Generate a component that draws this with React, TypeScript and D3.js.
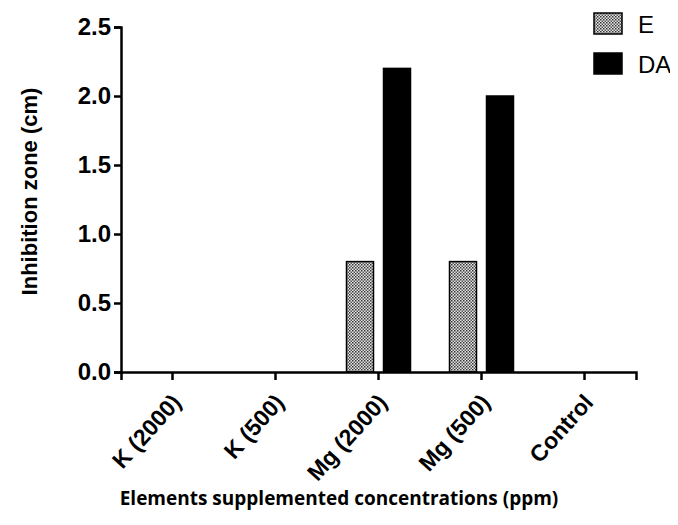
import * as d3 from "d3";
import { useEffect, useRef } from "react";

const categories = ["K (2000)", "K (500)", "Mg (2000)", "Mg (500)", "Control"];
const seriesNames = ["E", "DA"];
const valuesE = [0, 0, 0.8, 0.8, 0];
const valuesDA = [0, 0, 2.2, 2.0, 0];
const yTicks = [0, 0.5, 1.0, 1.5, 2.0, 2.5];

const App = () => {
  const ref = useRef<SVGSVGElement | null>(null);

  useEffect(() => {
    const svg = d3.select(ref.current);
    svg.selectAll("*").remove();

    const width = 678,
      height = 525;
    const margin = { top: 27, right: 42, bottom: 153, left: 121 };
    const chartWidth = width - margin.left - margin.right;
    const chartHeight = height - margin.top - margin.bottom;
    const font = "Liberation Sans, Arial, sans-serif";

    const defs = svg.append("defs");
    const pat = defs
      .append("pattern")
      .attr("id", "checker")
      .attr("width", 3)
      .attr("height", 3)
      .attr("patternUnits", "userSpaceOnUse");
    pat.append("rect").attr("width", 3).attr("height", 3).attr("fill", "#e6e6e6");
    pat.append("rect").attr("width", 1.5).attr("height", 1.5).attr("fill", "#333");
    pat.append("rect").attr("x", 1.5).attr("y", 1.5).attr("width", 1.5).attr("height", 1.5).attr("fill", "#555");

    const x = d3.scaleBand().domain(categories).range([0, chartWidth]).padding(0);
    const y = d3.scaleLinear().domain([0, 2.5]).range([chartHeight, 0]);

    const g = svg.append("g").attr("transform", `translate(${margin.left},${margin.top})`);

    const barW = 27;
    const gap = 10;
    const fills = ["url(#checker)", "#000"];
    const series = [valuesE, valuesDA];

    series.forEach((vals, si) => {
      g.selectAll(`.bar${si}`)
        .data(vals.map((v, i) => ({ v, c: categories[i] })))
        .enter()
        .filter((d) => d.v > 0)
        .append("rect")
        .attr("x", (d) => {
          const c = (x(d.c) ?? 0) + x.bandwidth() / 2;
          return si === 0 ? c - gap / 2 - barW : c + gap / 2;
        })
        .attr("y", (d) => y(d.v))
        .attr("width", barW)
        .attr("height", (d) => chartHeight - y(d.v))
        .attr("fill", fills[si])
        .attr("stroke", "#000")
        .attr("stroke-width", 1.5);
    });

    const yAxis = g
      .append("g")
      .call(d3.axisLeft(y).tickValues(yTicks).tickFormat(d3.format(".1f")).tickSizeOuter(0).tickSize(7));
    yAxis.select(".domain").attr("stroke-width", 2.5);
    yAxis.selectAll(".tick line").attr("stroke-width", 2.5);
    yAxis
      .selectAll(".tick text")
      .attr("font-family", font)
      .attr("font-weight", "bold")
      .attr("font-size", 24)
      .attr("fill", "#000")
      .attr("x", -10);

    const xAxis = g
      .append("g")
      .attr("transform", `translate(0,${chartHeight})`)
      .call(d3.axisBottom(x).tickSizeOuter(0).tickSize(8));
    xAxis.select(".domain").attr("stroke-width", 2.5);
    xAxis.selectAll(".tick line").attr("stroke-width", 2.5);
    xAxis
      .selectAll(".tick text")
      .attr("font-family", font)
      .attr("font-weight", "bold")
      .attr("font-size", 23)
      .attr("fill", "#000")
      .attr("text-anchor", "end")
      .attr("dy", "0.35em")
      .attr("transform", "translate(4,26) rotate(-48)")
      .attr("y", 0)
      .attr("x", 0);

    svg
      .append("text")
      .attr("transform", `translate(37,${margin.top + chartHeight / 2 - 8}) rotate(-90)`)
      .attr("text-anchor", "middle")
      .attr("font-family", font)
      .attr("font-weight", "bold")
      .attr("font-size", 22)
      .text("Inhibition zone (cm)");

    svg
      .append("text")
      .attr("x", 339)
      .attr("y", 505)
      .attr("text-anchor", "middle")
      .attr("font-family", "Open Sans, Liberation Sans, sans-serif")
      .attr("font-weight", "bold")
      .attr("font-size", 19)
      .text("Elements supplemented concentrations (ppm)");

    const legend = svg.append("g").attr("transform", "translate(594,13)");
    seriesNames.forEach((name, i) => {
      const row = legend.append("g").attr("transform", `translate(0,${i * 40})`);
      row
        .append("rect")
        .attr("width", 28)
        .attr("height", 21)
        .attr("fill", fills[i])
        .attr("stroke", "#000")
        .attr("stroke-width", 1.5);
      row
        .append("text")
        .attr("x", 44)
        .attr("y", 20)
        .attr("font-family", font)
        .attr("font-size", 24)
        .text(name);
    });
  }, []);

  return <svg ref={ref} width={678} height={525} style={{ display: "block", margin: -8 }}></svg>;
};

export default App;
